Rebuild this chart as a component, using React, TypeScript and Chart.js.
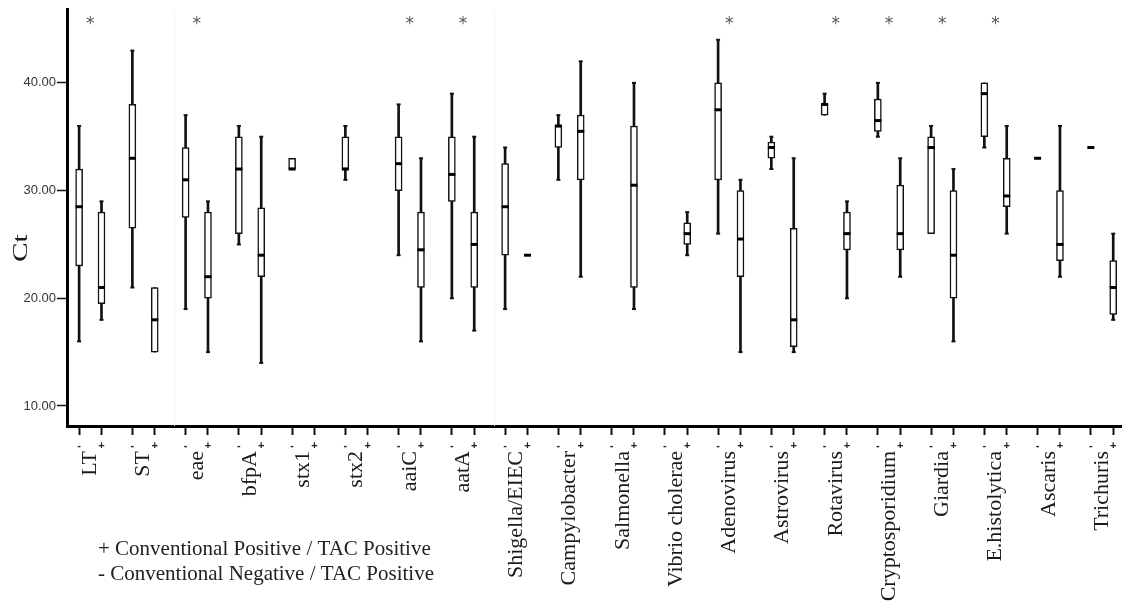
import React, { useEffect, useRef } from "react";
import { Chart, registerables } from "chart.js";

Chart.register(...registerables);

// ---------- data ----------
const categories = [
  "LT", "ST", "eae", "bfpA", "stx1", "stx2", "aaiC", "aatA", "Shigella/EIEC",
  "Campylobacter", "Salmonella", "Vibrio cholerae", "Adenovirus", "Astrovirus",
  "Rotavirus", "Cryptosporidium", "Giardia", "E.histolytica", "Ascaris", "Trichuris",
];

// "-" : Conventional Negative / TAC Positive
const negMin = [16, 21, 19, 25, 32, 31, 24, 20, 19, 31, null, null, 26, 32, 37, 35, 26, 34, 33, 34];
const negQ1 = [23, 26.5, 27.5, 26, 32, 32, 30, 29, 24, 34, null, null, 31, 33, 37, 35.5, 26, 35, 33, 34];
const negMed = [28.5, 33, 31, 32, 32, 32, 32.5, 31.5, 28.5, 36, null, null, 37.5, 34, 38, 36.5, 34, 39, 33, 34];
const negQ3 = [32, 38, 34, 35, 33, 35, 35, 35, 32.5, 36, null, null, 40, 34.5, 38, 38.5, 35, 40, 33, 34];
const negMax = [36, 43, 37, 36, 33, 36, 38, 39, 34, 37, null, null, 44, 35, 39, 40, 36, 40, 33, 34];

// "+" : Conventional Positive / TAC Positive
const posMin = [18, 15, 15, 14, null, null, 16, 17, 24, 22, 19, 24, 15, 15, 20, 22, 16, 26, 22, 18];
const posQ1 = [19.5, 15, 20, 22, null, null, 21, 21, 24, 31, 21, 25, 22, 15.5, 24.5, 24.5, 20, 28.5, 23.5, 18.5];
const posMed = [21, 18, 22, 24, null, null, 24.5, 25, 24, 35.5, 30.5, 26, 25.5, 18, 26, 26, 24, 29.5, 25, 21];
const posQ3 = [28, 21, 28, 28.4, null, null, 28, 28, 24, 37, 36, 27, 30, 26.5, 28, 30.5, 30, 33, 30, 23.5];
const posMax = [29, 21, 29, 35, null, null, 33, 35, 24, 42, 40, 28, 31, 33, 29, 33, 32, 36, 36, 26];

const significant = [
  "LT", "eae", "aaiC", "aatA", "Adenovirus", "Rotavirus", "Cryptosporidium", "Giardia", "E.histolytica",
];

const yTicks = [10, 20, 30, 40];
const tickSigns = ["-", "+"];
const yAxisTitle = "Ct";
const legendLines = [
  "+ Conventional Positive / TAC Positive",
  "- Conventional Negative / TAC Positive",
];
const separators = [1.57, 7.58];

// ---------- layout constants ----------
const PAIR_OFFSET = 0.21;
const X_MIN = -0.4376;
const X_MAX = 19.375;
const Y_MIN = 8.14;
const Y_MAX = 46.86;
const STAR_LEVEL = 45.8;
const TITLE_LEVEL = 24.65;

type Pt = { x: number; y: any };

function buildSeries(
  mn: (number | null)[], q1: (number | null)[], md: (number | null)[],
  q3: (number | null)[], mx: (number | null)[], dx: number
) {
  const whisk: Pt[] = [];
  const box: Pt[] = [];
  const meds: Pt[] = [];
  const caps: Pt[] = [];
  categories.forEach((_, k) => {
    if (md[k] == null) return;
    const x = k + dx;
    if (mn[k] !== mx[k]) whisk.push({ x, y: [mn[k], mx[k]] });
    if (q1[k] !== q3[k]) box.push({ x, y: [q1[k], q3[k]] });
    meds.push({ x, y: md[k] });
    if (mx[k] !== q3[k]) caps.push({ x, y: mx[k] });
    if (mn[k] !== q1[k]) caps.push({ x, y: mn[k] });
  });
  return { whisk, box, meds, caps };
}

const annotationPlugin = {
  id: "annotations",
  beforeDatasetsDraw(chart: any) {
    const { ctx, chartArea } = chart;
    const xs = chart.scales.x;
    ctx.save();
    ctx.strokeStyle = "#f4f4f4";
    ctx.lineWidth = 1;
    separators.forEach((v) => {
      const px = Math.round(xs.getPixelForValue(v)) + 0.5;
      ctx.beginPath();
      ctx.moveTo(px, chartArea.top);
      ctx.lineTo(px, chartArea.bottom);
      ctx.stroke();
    });
    ctx.restore();
  },
  afterDraw(chart: any) {
    const { ctx } = chart;
    const xs = chart.scales.x;
    const ys = chart.scales.y;
    ctx.save();

    // significance asterisks
    ctx.fillStyle = "#555555";
    ctx.font = '17px "DejaVu Sans"';
    ctx.textAlign = "center";
    ctx.textBaseline = "alphabetic";
    const m = ctx.measureText("*");
    const starY = ys.getPixelForValue(STAR_LEVEL) + (m.actualBoundingBoxAscent - m.actualBoundingBoxDescent) / 2;
    significant.forEach((name) => {
      const k = categories.indexOf(name);
      ctx.fillText("*", xs.getPixelForValue(k), starY);
    });

    // category names (vertical)
    ctx.fillStyle = "#1a1a1a";
    ctx.font = '22px "Liberation Serif"';
    ctx.textAlign = "right";
    ctx.textBaseline = "middle";
    const labelTop = chart.chartArea.bottom + 25;
    categories.forEach((name, k) => {
      ctx.save();
      ctx.translate(xs.getPixelForValue(k), labelTop);
      ctx.rotate(-Math.PI / 2);
      ctx.fillText(name, 0, 0);
      ctx.restore();
    });

    // y axis title
    ctx.save();
    ctx.font = '21px "Liberation Serif"';
    ctx.fillStyle = "#1a1a1a";
    ctx.textAlign = "center";
    ctx.textBaseline = "middle";
    ctx.translate(21, ys.getPixelForValue(TITLE_LEVEL));
    ctx.rotate(-Math.PI / 2);
    ctx.scale(1.4, 1);
    ctx.fillText(yAxisTitle, 0, 0);
    ctx.restore();

    // legend text
    ctx.font = '21px "Liberation Serif"';
    ctx.fillStyle = "#222222";
    ctx.textAlign = "left";
    ctx.textBaseline = "middle";
    legendLines.forEach((line, i) => {
      ctx.fillText(line, 98, 549 + i * 25);
    });

    ctx.restore();
  },
};

export default function App() {
  const canvasRef = useRef<HTMLCanvasElement | null>(null);

  useEffect(() => {
    document.body.style.margin = "0";
    const canvas = canvasRef.current;
    if (!canvas) return;

    const neg = buildSeries(negMin, negQ1, negMed, negQ3, negMax, -PAIR_OFFSET);
    const pos = buildSeries(posMin, posQ1, posMed, posQ3, posMax, PAIR_OFFSET);

    const whiskerStyle = {
      type: "bar" as const,
      backgroundColor: "#111111",
      borderWidth: 0,
      barThickness: 2,
      grouped: false,
      order: 4,
    };
    const boxStyle = {
      type: "bar" as const,
      backgroundColor: "#ffffff",
      borderColor: "#111111",
      borderWidth: 1.5,
      borderSkipped: false,
      barThickness: 7,
      grouped: false,
      order: 3,
    };
    const capStyle = {
      type: "scatter" as const,
      pointStyle: "line",
      pointRadius: 2,
      borderWidth: 2,
      borderColor: "#111111",
      showLine: false,
      order: 2,
    };
    const medStyle = {
      type: "scatter" as const,
      pointStyle: "line",
      pointRadius: 3.5,
      borderWidth: 3,
      borderColor: "#000000",
      showLine: false,
      order: 1,
    };

    const chart = new Chart(canvas, {
      type: "bar",
      data: {
        datasets: [
          { ...whiskerStyle, label: "neg whisker", data: neg.whisk },
          { ...whiskerStyle, label: "pos whisker", data: pos.whisk },
          { ...boxStyle, label: "neg box", data: neg.box },
          { ...boxStyle, label: "pos box", data: pos.box },
          { ...capStyle, label: "neg caps", data: neg.caps },
          { ...capStyle, label: "pos caps", data: pos.caps },
          { ...medStyle, label: "neg median", data: neg.meds },
          { ...medStyle, label: "pos median", data: pos.meds },
        ] as any,
      },
      options: {
        responsive: false,
        animation: false,
        devicePixelRatio: 1,
        events: [],
        layout: { autoPadding: false, padding: { top: 9, left: 0, right: 0, bottom: 0 } },
        plugins: { legend: { display: false }, tooltip: { enabled: false } },
        scales: {
          x: {
            type: "linear",
            min: X_MIN,
            max: X_MAX,
            offset: false,
            afterBuildTicks: (s: any) => {
              s.ticks = categories.flatMap((_, k) => [
                { value: k - PAIR_OFFSET },
                { value: k + PAIR_OFFSET },
              ]);
            },
            afterFit: (s: any) => {
              s.height = 175;
              s.paddingLeft = 0;
              s.paddingRight = 0;
            },
            ticks: {
              autoSkip: false,
              maxRotation: 0,
              minRotation: 0,
              padding: 4,
              color: "#222222",
              font: { family: "Liberation Sans", size: 11, weight: "bold" },
              callback: (_v: any, i: number) => tickSigns[i % 2],
            },
            grid: {
              drawOnChartArea: false,
              drawTicks: true,
              tickLength: 9,
              tickWidth: 2,
              tickColor: "#111111",
              offset: false,
            },
            border: { display: true, color: "#000000", width: 3 },
          },
          y: {
            type: "linear",
            min: Y_MIN,
            max: Y_MAX,
            afterBuildTicks: (s: any) => {
              s.ticks = yTicks.map((v) => ({ value: v }));
            },
            afterFit: (s: any) => {
              s.width = 67;
              s.paddingTop = 0;
              s.paddingBottom = 0;
            },
            ticks: {
              padding: 1,
              color: "#333333",
              font: { family: "Liberation Sans", size: 13 },
              callback: (v: any) => Number(v).toFixed(2),
            },
            grid: {
              drawOnChartArea: false,
              drawTicks: true,
              tickLength: 10,
              tickWidth: 1.5,
              tickColor: "#111111",
            },
            border: { display: true, color: "#000000", width: 3 },
          },
        },
      },
      plugins: [annotationPlugin],
    });

    return () => chart.destroy();
  }, []);

  return (
    <div style={{ width: 1122, height: 601 }}>
      <canvas ref={canvasRef} width={1122} height={601} style={{ display: "block" }} />
    </div>
  );
}
